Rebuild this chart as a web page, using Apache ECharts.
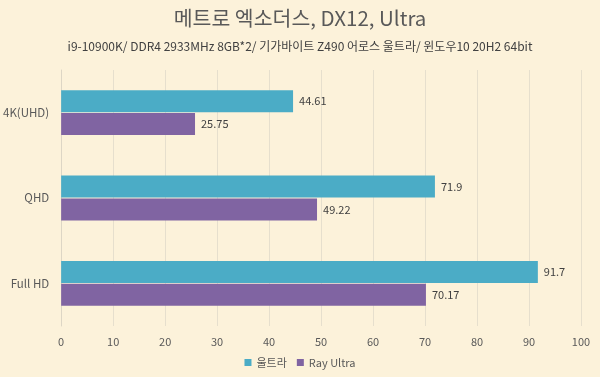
<!DOCTYPE html>
<html>
<head>
<meta charset="utf-8">
<script src="https://cdn.jsdelivr.net/npm/echarts@6/dist/echarts.min.js"></script>
<style>
  html, body { margin: 0; padding: 0; background: #fcf2da; }
  #chart { width: 600px; height: 377px; }
</style>
</head>
<body>
<div id="chart"></div>
<script>
// 데이터
var categories = ['4K(UHD)', 'QHD', 'Full HD'];
var ultra = [44.61, 71.9, 91.7];
var rayUltra = [25.75, 49.22, 70.17];
var seriesNames = ['울트라', 'Ray Ultra'];

var font = '"Noto Sans CJK KR", "Noto Sans", sans-serif';
var myChart = echarts.init(document.getElementById('chart'));

myChart.setOption({
  backgroundColor: '#fcf2da',
  color: ['#4bacc6', '#8064a2'],
  textStyle: { fontFamily: font },
  title: {
    text: '메트로 엑소더스, DX12, Ultra',
    subtext: 'i9-10900K/ DDR4 2933MHz 8GB*2/ 기가바이트 Z490 어로스 울트라/ 윈도우10 20H2 64bit',
    left: 'center',
    top: 3,
    itemGap: 12,
    textStyle: { fontFamily: font, fontSize: 20.5, fontWeight: 'normal', color: '#595959' },
    subtextStyle: { fontFamily: font, fontSize: 12, color: '#404040' }
  },
  legend: {
    bottom: 4,
    itemWidth: 7,
    itemHeight: 7,
    itemGap: 10,
    icon: 'rect',
    textStyle: { fontFamily: font, fontSize: 11, color: '#595959' },
    data: seriesNames
  },
  grid: { left: 60, right: 19, top: 70, bottom: 51 },
  xAxis: {
    type: 'value',
    min: 0,
    max: 100,
    interval: 10,
    axisLine: { show: false },
    axisTick: { show: false },
    axisLabel: { color: '#595959', fontSize: 11, margin: 10 },
    splitLine: { lineStyle: { color: '#e6dfcd', width: 1 } }
  },
  yAxis: {
    type: 'category',
    inverse: true,
    data: categories,
    axisLine: { lineStyle: { color: '#ddd6c5' } },
    axisTick: { show: false },
    axisLabel: { color: '#595959', fontSize: 11.5, margin: 12 }
  },
  series: [
    {
      name: seriesNames[0],
      type: 'bar',
      data: ultra,
      barWidth: 22,
      barGap: '4%',
      label: { show: true, position: 'right', color: '#404040', fontSize: 11, distance: 6 }
    },
    {
      name: seriesNames[1],
      type: 'bar',
      data: rayUltra,
      barWidth: 22,
      barGap: '4%',
      label: { show: true, position: 'right', color: '#404040', fontSize: 11, distance: 6 }
    }
  ]
});
</script>
</body>
</html>
